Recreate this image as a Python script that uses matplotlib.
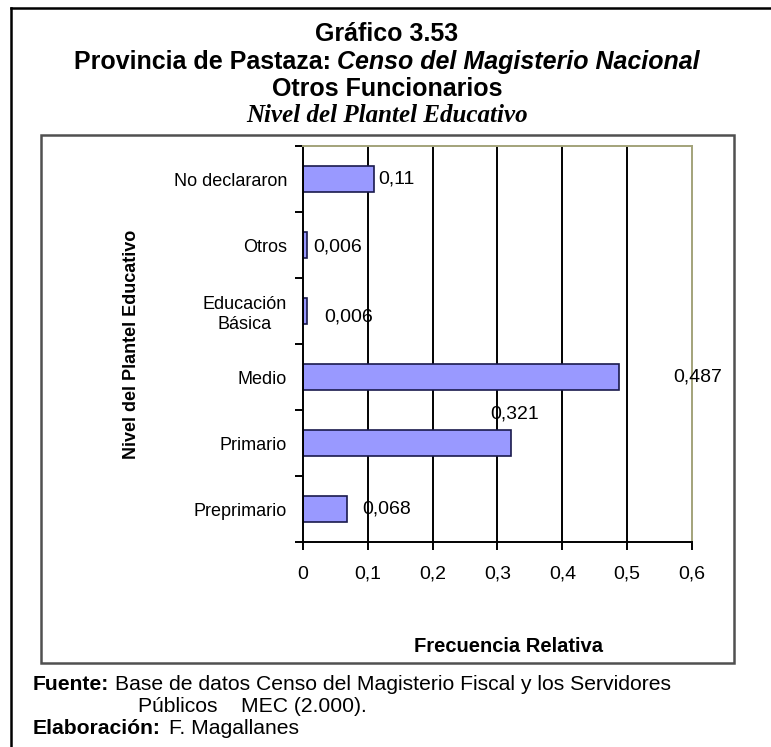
import matplotlib
matplotlib.use('Agg')
import matplotlib.pyplot as plt
from matplotlib.lines import Line2D
from matplotlib.patches import Rectangle

# datos
categorias = ['Preprimario', 'Primario', 'Medio', 'Educación\nBásica', 'Otros', 'No declararon']
frecuencias = [0.068, 0.321, 0.487, 0.006, 0.006, 0.11]
etiquetas = ['0,068', '0,321', '0,487', '0,006', '0,006', '0,11']
xticks = [0, 0.1, 0.2, 0.3, 0.4, 0.5, 0.6]
xtick_labels = ['0', '0,1', '0,2', '0,3', '0,4', '0,5', '0,6']

# desplazamiento de cada etiqueta (pixeles) respecto al extremo de la barra
desplaz = [(15, 0), (-21, 29), (55, 0), (17, -6), (6, -2), (4, 0)]

W, H = 771, 747
def fx(x):
    return x / W
def fy(y):
    return 1 - y / H

fig = plt.figure(figsize=(W / 100, H / 100), dpi=100)
fig.patch.set_facecolor('white')

sans = 'Liberation Sans'
serif = 'Liberation Serif'

# marco exterior (solo se ve izquierda y arriba)
fig.add_artist(Line2D([fx(11), fx(11)], [fy(8), fy(760)], color='black', lw=1.8))
fig.add_artist(Line2D([fx(11), fx(780)], [fy(8), fy(8)], color='black', lw=1.8))

# marco del grafico
fig.add_artist(Rectangle((fx(41), fy(663)), fx(734) - fx(41), fy(135) - fy(663),
                         fill=False, edgecolor='#505050', lw=1.8))

ax = fig.add_axes([fx(303), fy(542), (692 - 303) / W, (542 - 146) / H])
ax.set_xlim(0, 0.6)
ax.set_ylim(-0.5, len(categorias) - 0.5)

for t in xticks[1:-1]:
    ax.axvline(t, color='black', lw=1.4, zorder=1)

ax.barh(range(len(categorias)), frecuencias, height=0.4, color='#9999ff',
        edgecolor='#1a1a4d', lw=1.2, zorder=2)

for i, v in enumerate(frecuencias):
    ax.annotate(etiquetas[i], (v, i), xytext=desplaz[i], textcoords='offset pixels',
                ha='left', va='center', fontsize=14, family=sans,
                annotation_clip=False, zorder=3)

ax.spines['left'].set_color('black')
ax.spines['bottom'].set_color('black')
ax.spines['left'].set_linewidth(1.4)
ax.spines['bottom'].set_linewidth(1.4)
ax.spines['top'].set_color('#a3a37a')
ax.spines['right'].set_color('#a3a37a')
ax.spines['top'].set_linewidth(1.4)
ax.spines['right'].set_linewidth(1.4)

ax.set_xticks(xticks)
ax.set_xticklabels(xtick_labels, fontsize=14, family=sans)
ax.tick_params(axis='x', direction='out', length=6, width=1.4, pad=11)

ax.set_yticks(range(len(categorias)))
ax.set_yticklabels(categorias, fontsize=13, family=sans, multialignment='center')
ax.tick_params(axis='y', which='major', length=0, pad=11.5)
ax.set_yticks([i - 0.5 for i in range(len(categorias) + 1)], minor=True)
ax.tick_params(axis='y', which='minor', direction='out', length=6, width=1.4)

fig.text(fx(132), fy(344), 'Nivel del Plantel Educativo', rotation=90, ha='center', va='center',
         fontsize=13, fontweight='bold', family=sans)
fig.text(fx(508), fy(647), 'Frecuencia Relativa', ha='center', va='center',
         fontsize=14.5, fontweight='bold', family=sans)


def linea(partes, x, y, centrar=False, gap=6):
    textos = []
    for txt, props in partes:
        textos.append(fig.text(0, fy(y), txt, va='center', ha='left', **props))
    r = fig.canvas.get_renderer()
    anchos = [t.get_window_extent(renderer=r).width for t in textos]
    total = sum(anchos) + gap * (len(anchos) - 1)
    x0 = x - total / 2 if centrar else x
    for t, w in zip(textos, anchos):
        t.set_x(fx(x0))
        x0 += w + gap


tit = dict(fontsize=18, fontweight='bold', family=sans)
linea([('Gráfico 3.53', tit)], 387, 34, centrar=True)
linea([('Provincia de Pastaza:', tit),
       ('Censo del Magisterio Nacional', dict(tit, style='italic'))], 387, 62, centrar=True)
linea([('Otros Funcionarios', tit)], 387, 89, centrar=True)
linea([('Nivel del Plantel Educativo', dict(fontsize=18, fontweight='bold', style='italic', family=serif))],
      387, 115, centrar=True)

pie = dict(fontsize=15.2, family=sans)
linea([('Fuente:', dict(pie, fontweight='bold')),
       ('Base de datos Censo del Magisterio Fiscal y los Servidores', pie)], 33, 685)
linea([('Públicos    MEC (2.000).', pie)], 138, 707)
linea([('Elaboración:', dict(pie, fontweight='bold')), ('F. Magallanes', pie)], 33, 728, gap=8)

fig.savefig('out.png', dpi=100)
